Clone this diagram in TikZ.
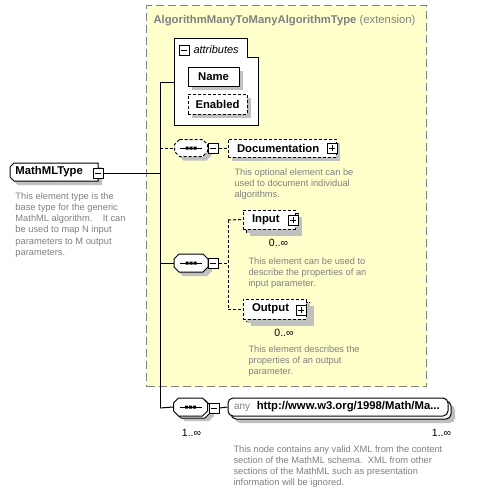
\documentclass[tikz,border=0pt]{standalone}
\usepackage{fontspec}
\setmainfont{Liberation Sans}
\usetikzlibrary{shadows}
\definecolor{yel}{RGB}{255,255,204}
\definecolor{shd}{RGB}{192,192,192}
\definecolor{txg}{RGB}{128,128,128}
\newcommand\lblfont{\fontsize{11.3}{13}\selectfont\bfseries}
\newcommand\descfont{\fontsize{9.3}{11.2}\selectfont}
\newcommand\occfont{\fontsize{10.5}{12}\selectfont}
% octagon path: centre x, centre y, half width, half height
\newcommand\octpath[4]{(#1-#3+5,#2-#4) -- (#1+#3-5,#2-#4) -- (#1+#3,#2-#4+5) -- (#1+#3,#2+#4-5)
  -- (#1+#3-5,#2+#4) -- (#1-#3+5,#2+#4) -- (#1-#3,#2+#4-5) -- (#1-#3,#2-#4+5) -- cycle}
% sequence symbol at centre x, y
\newcommand\seqsymbol[2]{\draw (#1-11,#2) -- (#1+11,#2);
  \fill (#1-5.5,#2-1.5) rectangle (#1-2.5,#2+1.5) (#1-1.5,#2-1.5) rectangle (#1+1.5,#2+1.5)
        (#1+2.5,#2-1.5) rectangle (#1+5.5,#2+1.5);}
\begin{document}
\begin{tikzpicture}[x=1pt,y=-1pt,line width=1pt,
  withshadow/.style={drop shadow={shadow xshift=4pt,shadow yshift=-4pt,fill=shd,opacity=1}},
  dsh/.style={dash pattern=on 3pt off 2pt},
  elbox/.style={draw,fill=white,inner xsep=9pt,inner ysep=0pt,font=\lblfont,withshadow},
  mbox/.style={draw,fill=white,minimum size=10pt,inner sep=0pt,
    path picture={\draw[line width=1pt,shift={(path picture bounding box.center)}] (-3pt,0)--(3pt,0);}},
  pbox/.style={draw,fill=white,minimum size=10pt,inner sep=0pt,
    path picture={\draw[line width=1pt,shift={(path picture bounding box.center)}] (-3pt,0)--(3pt,0) (0,-3pt)--(0,3pt);}},
  desc/.style={font=\descfont,text=txg,align=left,anchor=north west,inner sep=0pt},
  occ/.style={font=\occfont,inner sep=0pt,anchor=base}
]
\useasboundingbox (0,0) rectangle (488,493);
\fill[white] (0,0) rectangle (488,493);

% extension container
\node[draw=txg,fill=yel,dash pattern=on 8pt off 4pt,minimum width=280pt,minimum height=381pt,
      inner sep=0pt,anchor=north west] (ext) at (146,5) {};
\node[anchor=base west,text=txg,inner sep=0pt,font=\lblfont] (title) at (153,23)
  {AlgorithmManyToManyAlgorithmType\mdseries\ (extension)};

% attributes
\draw[fill=white] (174,38) -- (247,38) -- (247,57) -- (258,57) -- (258,125) -- (174,125) -- cycle;
\coordinate (attrL) at (174,82);
\node[mbox] (attrm) at (184,50) {};
\node[anchor=base west,inner sep=0pt,font=\fontsize{11}{13}\selectfont\itshape] (attrt) at (193,53) {attributes};
\node[elbox,inner xsep=0pt,minimum width=51pt,minimum height=19pt] (name) at (213.5,76.5) {Name};
\node[elbox,dsh,inner xsep=0pt,minimum width=59pt,minimum height=20pt] (enabled) at (217.5,104) {Enabled};

% MathMLType
\fill[shd] (18,167) -- (102,167) -- (102,185) -- (18,185) -- (14,181) -- (14,171) -- cycle;
\draw[fill=white] (14,163) -- (98,163) -- (98,181) -- (14,181) -- (10,177) -- (10,167) -- cycle;
\node[anchor=west,inner sep=0pt,font=\lblfont] (mtl) at (15,172) {MathMLType};
\node[mbox] (mtm) at (98,173) {};
\node[desc] (mtd) at (15,192) {This element type is the\\base type for the generic\\MathML algorithm.\ \ \ \ It can\\be used to map N input\\parameters to M output\\parameters.};

% spine
\coordinate (s1) at (160,82);
\coordinate (j0) at (160,173);
\coordinate (s2) at (160,148);
\coordinate (s3) at (160,263);
\coordinate (s4) at (160,408);
\draw (s1) -- (s4);
\draw (s1) -- (attrL);
\draw (mtm.east) -- (j0);

% Documentation branch
\fill[shd] \octpath{195}{152}{16.5}{8.5};
\draw[dsh,fill=white] \octpath{191}{148}{16.5}{8.5};
\seqsymbol{191}{148}
\coordinate (docseqW) at (174.5,148);
\node[mbox] (docm) at (213,148) {};
\node[elbox,dsh,text width=90pt,align=left,minimum height=18pt] (doc) at (282,148) {Documentation};
\node[pbox] (docp) at (332,148) {};
\draw[dsh] (s2) -- (docseqW);
\draw[dsh] (docm.east) -- (doc.west);
\node[desc] (docd) at (234,168) {This optional element can be\\used to document individual\\algorithms.};

% main sequence
\fill[shd] \octpath{195}{267}{17}{9};
\draw[fill=white] \octpath{191}{263}{17}{9};
\seqsymbol{191}{263}
\coordinate (mainseqW) at (174,263);
\node[mbox] (mainm) at (213,263) {};
\draw (s3) -- (mainseqW);
\coordinate (vmid) at (228,263);
\coordinate (vin) at (228,220);
\coordinate (vout) at (228,309);
\draw[dsh] (mainm.east) -- (vmid);
\draw[dsh] (vin) -- (vout);

% Input
\node[elbox,dsh,inner xsep=0pt,minimum width=52pt,minimum height=19pt] (inputb) at (272,222.5) {};
\node[elbox,dsh,text width=34pt,align=left,minimum height=19pt,drop shadow={opacity=0}] (input) at (269,219.5) {Input};
\node[pbox] (inputp) at (293,220) {};
\draw[dsh] (vin) -- (input.west);
\node[occ] (inocc) at (278.5,246.5) {0..∞};
\node[desc] (ind) at (248,257) {This element can be used to\\describe the properties of an\\input parameter.};

% Output
\node[elbox,dsh,inner xsep=0pt,minimum width=63pt,minimum height=20pt] (outputb) at (278,312) {};
\node[elbox,dsh,text width=45pt,align=left,minimum height=20pt,drop shadow={opacity=0}] (output) at (274.5,309) {Output};
\node[pbox] (outputp) at (301,310) {};
\draw[dsh] (vout) -- (output.west);
\node[occ] (outocc) at (284,336.5) {0..∞};
\node[desc] (outd) at (248,345) {This element describes the\\properties of an output\\parameter.};

% any branch
\fill[shd] \octpath{197}{412}{17}{9};
\draw[fill=white] \octpath{193}{409}{17}{9};
\draw[fill=white] \octpath{190.5}{407}{17}{9};
\seqsymbol{190.5}{407}
\coordinate (anyseqW) at (173.5,407);
\node[mbox] (anym) at (214,408) {};
\draw (s4) -- (anyseqW);
\node[draw,fill=white,rounded corners=5pt,minimum width=220pt,minimum height=18pt,withshadow] (anyb) at (341,410) {};
\node[draw,fill=white,rounded corners=5pt,inner xsep=6pt,inner ysep=0pt,text width=208pt,align=left,minimum height=18pt] (any) at (338,407)
  {\fontsize{10}{12}\selectfont\textcolor{txg}{any}\ \ {\lblfont http://www.w3.org/1998/Math/Ma...}};
\draw (anym.east) -- (any.west);
\node[occ] (anyocc1) at (191.5,436.5) {1..∞};
\node[occ] (anyocc2) at (441.5,436.5) {1..∞};
\node[desc] (anyd) at (233,445) {This node contains any valid XML from the content\\section of the MathML schema.\ \ XML from other\\sections of the MathML such as presentation\\information will be ignored.};
\end{tikzpicture}
\end{document}
